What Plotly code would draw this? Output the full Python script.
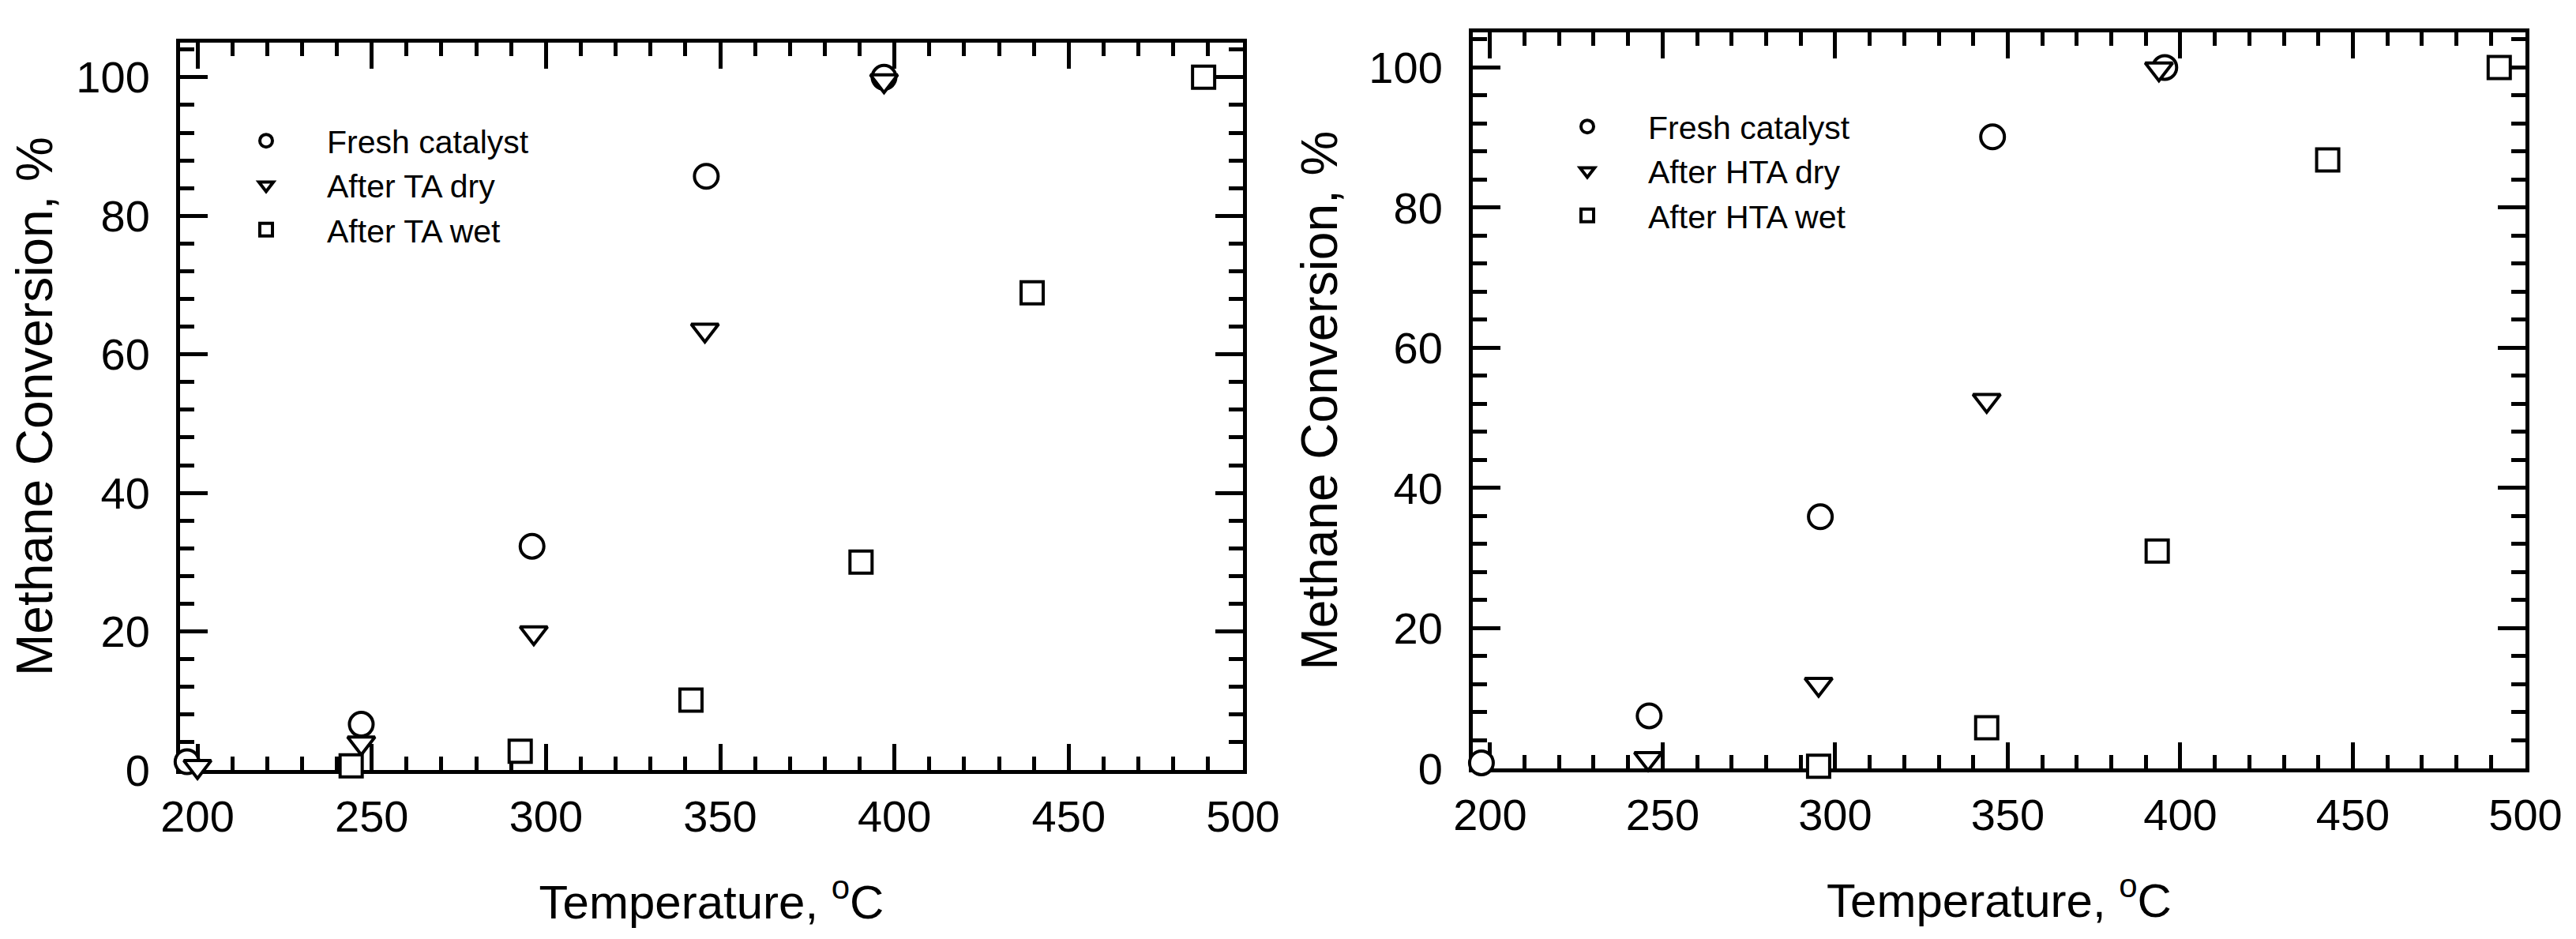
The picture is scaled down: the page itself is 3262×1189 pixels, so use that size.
import plotly.graph_objects as go

# ---- data ----
# Left panel: thermal ageing (TA)
ta_fresh_temp = [197.0, 247.0, 296.0, 346.0, 397.0]
ta_fresh_conv = [1.2, 6.6, 32.3, 85.7, 100.0]
ta_dry_temp = [200.0, 247.0, 296.5, 345.6, 397.0]
ta_dry_conv = [0.5, 3.9, 19.8, 63.5, 99.5]
ta_wet_temp = [244.1, 292.6, 341.6, 390.4, 439.5, 488.7]
ta_wet_conv = [0.6, 2.7, 10.1, 30.0, 68.9, 100.0]

# Right panel: hydrothermal ageing (HTA)
hta_fresh_temp = [197.5, 246.1, 295.7, 345.6, 395.5]
hta_fresh_conv = [0.8, 7.5, 35.9, 90.1, 100.0]
hta_dry_temp = [245.8, 295.2, 343.9, 393.8]
hta_dry_conv = [1.4, 12.0, 52.5, 99.8]
hta_wet_temp = [295.2, 343.9, 393.3, 442.7, 492.4]
hta_wet_conv = [0.3, 5.8, 31.0, 86.8, 100.0]

left_names = ["Fresh catalyst", "After TA dry", "After TA wet"]
right_names = ["Fresh catalyst", "After HTA dry", "After HTA wet"]

x_title = "Temperature, <sup>o</sup>C" + "\u00a0" * 5
y_title = "Methane Conversion, %"

FONT = "Arial, Liberation Sans, Arimo, sans-serif"
W, H = 3262, 1189

symbols = ["circle", "triangle-down", "square"]
sizes = [30, 30, 28]

fig = go.Figure()

def add(xs, ys, name, k, xa, ya, legend):
    fig.add_trace(go.Scatter(
        x=xs, y=ys, name=name, mode="markers", cliponaxis=False,
        xaxis=xa, yaxis=ya, legend=legend,
        marker=dict(symbol=symbols[k], size=sizes[k],
                    color="white", line=dict(color="black", width=4)),
    ))

add(ta_fresh_temp, ta_fresh_conv, left_names[0], 0, "x", "y", "legend")
add(ta_dry_temp, ta_dry_conv, left_names[1], 1, "x", "y", "legend")
add(ta_wet_temp, ta_wet_conv, left_names[2], 2, "x", "y", "legend")
add(hta_fresh_temp, hta_fresh_conv, right_names[0], 0, "x2", "y2", "legend2")
add(hta_dry_temp, hta_dry_conv, right_names[1], 1, "x2", "y2", "legend2")
add(hta_wet_temp, hta_wet_conv, right_names[2], 2, "x2", "y2", "legend2")

def xaxis(domain, anchor):
    return dict(
        domain=domain, anchor=anchor, range=[195, 500],
        tick0=200, dtick=50, ticks="inside", ticklen=33, tickwidth=5, tickcolor="black",
        minor=dict(dtick=10, ticks="inside", ticklen=17, tickwidth=5, tickcolor="black"),
        showline=True, linewidth=5, linecolor="black", mirror="ticks",
        showgrid=False, zeroline=False, layer="below traces",
        tickfont=dict(family=FONT, size=56, color="black"),
        ticklabelstandoff=6,
        title=dict(text=x_title, font=dict(family=FONT, size=60, color="black"), standoff=58),
        automargin=False, fixedrange=True,
    )

def yaxis(domain, anchor):
    return dict(
        domain=domain, anchor=anchor, range=[0, 105],
        tick0=0, dtick=20, ticks="inside", ticklen=35, tickwidth=5, tickcolor="black",
        minor=dict(dtick=4, ticks="inside", ticklen=18, tickwidth=5, tickcolor="black"),
        showline=True, linewidth=5, linecolor="black", mirror="ticks",
        showgrid=False, zeroline=False, layer="below traces",
        tickfont=dict(family=FONT, size=56, color="black"),
        ticklabelstandoff=22,
        title=dict(text=y_title, font=dict(family=FONT, size=64, color="black"), standoff=20),
        automargin=False, fixedrange=True,
    )

legend_font = dict(family=FONT, size=41, color="black")

fig.update_layout(
    width=W, height=H,
    margin=dict(l=0, r=0, t=0, b=0),
    paper_bgcolor="white", plot_bgcolor="white",
    font=dict(family=FONT, color="black"),
    xaxis=xaxis([220 / W, 1566 / W], "y"),
    yaxis=yaxis([1 - 967 / H, 1 - 46 / H], "x"),
    xaxis2=xaxis([1857 / W, 3190 / W], "y2"),
    yaxis2=yaxis([1 - 965 / H, 1 - 33 / H], "x2"),
    legend=dict(x=252 / W, y=1 - 137 / H, xanchor="left", yanchor="top",
                bgcolor="rgba(0,0,0,0)", borderwidth=0, itemwidth=144,
                font=legend_font),
    legend2=dict(x=1925 / W, y=1 - 119 / H, xanchor="left", yanchor="top",
                 bgcolor="rgba(0,0,0,0)", borderwidth=0, itemwidth=144,
                 font=legend_font),
    showlegend=True,
)

fig.write_html("out.html")
